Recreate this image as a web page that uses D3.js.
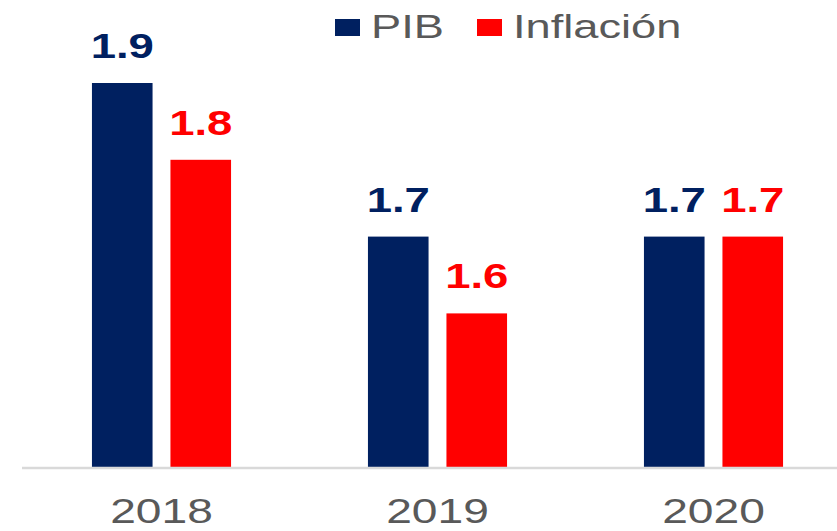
<!DOCTYPE html>
<html><head><meta charset="utf-8">
<script src="https://cdn.jsdelivr.net/npm/d3@7"></script>
<style>body{margin:0;background:#fff}svg{display:block}text{font-family:"Liberation Sans",Arial,sans-serif}</style>
</head><body>
<script>
const years = ["2018","2019","2020"];
const seriesNames = ["PIB","Inflación"];
const pib = [1.9, 1.7, 1.7];
const inflacion = [1.8, 1.6, 1.7];
const colors = ["#002060","#FF0000"];

const W=837,H=531, SX=1.3;
const svg=d3.select("body").append("svg").attr("width",W).attr("height",H);
const x=d3.scaleBand().domain(years).range([23.5,851.5]).paddingInner(0.496).paddingOuter(0.248);
const xs=d3.scaleBand().domain(seriesNames).range([0,x.bandwidth()]).paddingInner(0.228).paddingOuter(0);
const y=d3.scaleLinear().domain([1.4,1.9]).range([467,83]);
const data=years.map((yr,i)=>({yr,vals:[pib[i],inflacion[i]]}));

function stretchText(g,cx,cy,txt,sx){
  return g.append("text").attr("transform",`translate(${cx},${cy}) scale(${sx||SX},1)`).text(txt);
}

const g=svg.selectAll("g.grp").data(data).enter().append("g").attr("transform",d=>`translate(${x(d.yr)},0)`);
g.each(function(d){
  const gg=d3.select(this);
  d.vals.forEach((v,j)=>{
    gg.append("rect").attr("x",xs(seriesNames[j])).attr("width",xs.bandwidth())
      .attr("y",y(v)).attr("height",y(1.4)-y(v)+2).attr("fill",colors[j]);
    stretchText(gg,xs(seriesNames[j])+xs.bandwidth()/2,y(v)-25,v.toFixed(1))
      .attr("text-anchor","middle").attr("font-weight","bold").attr("font-size",35).attr("fill",colors[j]);
  });
});

svg.append("line").attr("x1",22).attr("x2",W).attr("y1",468).attr("y2",468).attr("stroke","#d9d9d9").attr("stroke-width",2.5);

years.forEach(yr=>{
  stretchText(svg,x(yr)+x.bandwidth()/2,523,yr,1.32).attr("text-anchor","middle").attr("font-size",35).attr("fill","#595959");
});

// legend
const legX=[335,477];
seriesNames.forEach((s,j)=>{
  svg.append("rect").attr("x",legX[j]).attr("y",19).attr("width",25).attr("height",17).attr("fill",colors[j]);
  stretchText(svg,legX[j]+36,38,s,1.37).attr("font-size",33).attr("fill","#595959");
});
</script>
</body></html>
